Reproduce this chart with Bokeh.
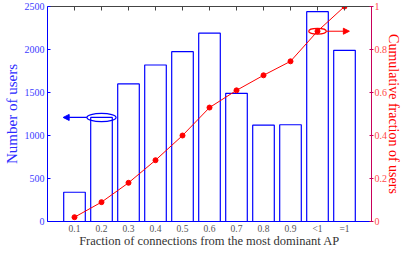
from bokeh.plotting import figure
from bokeh.models import Range1d, LinearAxis, FixedTicker, Arrow, NormalHead
from bokeh.embed import file_html
from bokeh.resources import INLINE

categories = ["0.1", "0.2", "0.3", "0.4", "0.5", "0.6", "0.7", "0.8", "0.9", "<1", "=1"]
users = [340, 1210, 1600, 1820, 1975, 2190, 1490, 1120, 1125, 2440, 1990]
cumulative = [0.02, 0.09, 0.18, 0.285, 0.40, 0.53, 0.61, 0.68, 0.745, 0.885, 1.0]
left_ticks = [0, 500, 1000, 1500, 2000, 2500]
right_ticks = [0, 0.2, 0.4, 0.6, 0.8, 1.0]
right_labels = ["0", "0.2", "0.4", "0.6", "0.8", "1"]

xs = list(range(1, len(categories) + 1))
SERIF = "Liberation Serif"
BLUE = "#0000ff"
RED = "#ff0000"

p = figure(width=404, height=250, output_backend="svg", toolbar_location=None,
           x_range=Range1d(0, len(categories) + 1), y_range=Range1d(0, 2500),
           min_border_left=47, min_border_right=20, min_border_top=6, min_border_bottom=20,
           x_axis_location=None, y_axis_location=None)
p.extra_y_ranges = {"cum": Range1d(0, 1)}
p.xgrid.visible = False
p.ygrid.visible = False
p.outline_line_color = None
p.background_fill_color = "white"

# bars
p.vbar(x=xs, top=users, width=0.8, fill_color="white", fill_alpha=0,
       line_color=BLUE, line_width=1.2)

# cumulative line
p.line(xs, cumulative, y_range_name="cum", line_color=RED, line_width=1)
p.scatter(xs, cumulative, y_range_name="cum", size=5, fill_color=RED, line_color=RED)

# annotations: ellipses + arrows
i_l = 1
p.ellipse(x=[xs[i_l]], y=[users[i_l]], width=1.08, height=95, fill_alpha=0,
          line_color=BLUE, line_width=1.2)
p.add_layout(Arrow(x_start=xs[i_l] - 0.54, y_start=users[i_l], x_end=xs[i_l] - 1.42, y_end=users[i_l],
                   line_color=BLUE, line_width=1.2,
                   end=NormalHead(size=6, fill_color=BLUE, line_color=BLUE)))
i_r = 9
p.ellipse(x=[xs[i_r]], y=[cumulative[i_r]], width=0.65, height=0.027, y_range_name="cum",
          fill_alpha=0, line_color=RED, line_width=1.2)
p.add_layout(Arrow(x_start=xs[i_r] + 0.33, y_start=cumulative[i_r], x_end=xs[i_r] + 1.18,
                   y_end=cumulative[i_r], y_range_name="cum",
                   line_color=RED, line_width=1,
                   end=NormalHead(size=6, fill_color=RED, line_color=RED)))

# left axis
yl = LinearAxis(ticker=FixedTicker(ticks=left_ticks), axis_label="Number of users")
yl.axis_line_color = BLUE
yl.major_tick_line_color = BLUE
yl.major_tick_in = 3
yl.major_tick_out = 0
yl.minor_tick_line_color = None
yl.minor_tick_out = 0
yl.major_label_text_color = "#3b3bff"
yl.major_label_text_font = SERIF
yl.major_label_text_font_size = "10px"
yl.major_label_standoff = 3
yl.axis_label_text_color = "#2b2bff"
yl.axis_label_text_font = SERIF
yl.axis_label_text_font_style = "normal"
yl.axis_label_text_font_size = "15px"
yl.axis_label_standoff = 2
p.add_layout(yl, "left")

# right axis
yr = LinearAxis(y_range_name="cum", ticker=FixedTicker(ticks=right_ticks),
                axis_label="Cumulative fraction of users")
yr.major_label_overrides = dict(zip(right_ticks, right_labels))
yr.axis_line_color = "#c8005a"
yr.major_tick_line_color = "#c8005a"
yr.major_tick_in = 2
yr.major_tick_out = 2
yr.minor_tick_line_color = None
yr.minor_tick_out = 0
yr.major_label_text_color = "#ff4848"
yr.major_label_text_font = SERIF
yr.major_label_text_font_size = "10px"
yr.major_label_standoff = 1
yr.axis_label_text_color = RED
yr.axis_label_text_font = SERIF
yr.axis_label_text_font_style = "normal"
yr.axis_label_text_font_size = "14px"
yr.axis_label_standoff = -4
p.add_layout(yr, "right")

# bottom axis
xb = LinearAxis(ticker=FixedTicker(ticks=xs),
                axis_label="Fraction of connections from the most dominant AP")
xb.major_label_overrides = dict(zip(xs, categories))
xb.axis_line_color = BLUE
xb.major_tick_line_color = None
xb.major_tick_in = 0
xb.major_tick_out = 0
xb.minor_tick_line_color = None
xb.minor_tick_out = 0
xb.major_label_text_color = "#555555"
xb.major_label_text_font = SERIF
xb.major_label_text_font_size = "9.5px"
xb.major_label_standoff = 2
xb.axis_label_text_color = "#333333"
xb.axis_label_text_font = SERIF
xb.axis_label_text_font_style = "normal"
xb.axis_label_text_font_size = "12.5px"
xb.axis_label_standoff = -3
p.add_layout(xb, "below")

# top: inward ticks at the categories
xt = LinearAxis(ticker=FixedTicker(ticks=xs))
xt.axis_line_color = "#444444"
xt.major_tick_line_color = "#444444"
xt.major_tick_in = 4
xt.major_tick_out = 0
xt.minor_tick_line_color = None
xt.minor_tick_out = 0
xt.major_label_text_color = None
xt.major_label_text_font_size = "1px"
xt.major_label_standoff = 0
p.add_layout(xt, "above")

open("out.html", "w").write(file_html(p, INLINE))
